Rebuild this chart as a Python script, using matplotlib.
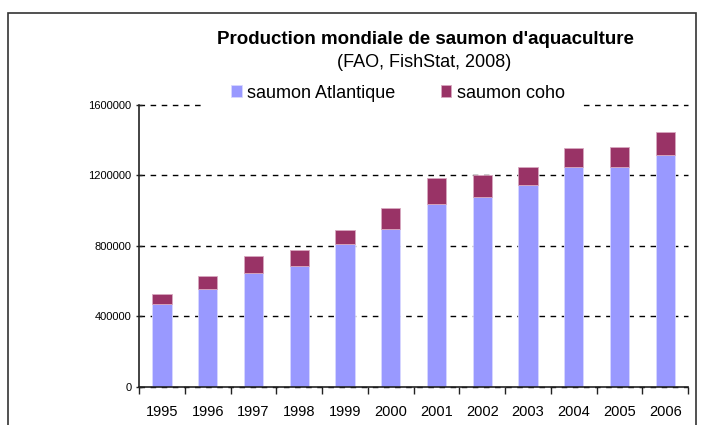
import matplotlib
matplotlib.use("Agg")
import matplotlib.pyplot as plt
from matplotlib.patches import Rectangle
import numpy as np

plt.rcParams["font.family"] = ["Liberation Sans", "DejaVu Sans"]

years = ["1995", "1996", "1997", "1998", "1999", "2000",
         "2001", "2002", "2003", "2004", "2005", "2006"]
atlantique = [469000, 553000, 647000, 685000, 808000, 893000,
              1040000, 1078000, 1144000, 1248000, 1248000, 1313000]
coho = [57000, 75000, 95000, 92000, 83000, 121000,
        142000, 121000, 104000, 105000, 112000, 132000]
yticks = [0, 400000, 800000, 1200000, 1600000]

ATL_COLOR = "#9999ff"
COHO_COLOR = "#993366"

W, H = 703, 425
fig = plt.figure(figsize=(7.03, 4.25), dpi=100)
ax = fig.add_axes([0.198, 0.0894, 0.7807, 0.6642])

x = np.arange(len(years))
ax.bar(x, atlantique, width=0.42, color=ATL_COLOR, edgecolor="#d8d8ff",
       linewidth=0.6, label="saumon Atlantique", zorder=2)
ax.bar(x, coho, width=0.42, bottom=atlantique, color=COHO_COLOR,
       edgecolor="#d8a8c0", linewidth=0.6, label="saumon coho", zorder=2)

ax.set_xlim(-0.5, len(years) - 0.5)
ax.set_ylim(0, 1600000)
ax.set_yticks(yticks)
ax.set_yticklabels([str(v) for v in yticks], fontsize=8)
ax.set_xticks(x)
ax.set_xticklabels(years, fontsize=10.5)
ax.set_xticks(np.arange(len(years) + 1) - 0.5, minor=True)
ax.tick_params(axis="x", which="major", length=0, pad=13)
ax.tick_params(axis="x", which="minor", length=5, width=1, direction="out", color="#222222")
ax.tick_params(axis="y", length=5, width=1, direction="inout", color="#222222", pad=3)

for s in ["top", "right"]:
    ax.spines[s].set_visible(False)
for s in ["left", "bottom"]:
    ax.spines[s].set_color("#222222")
    ax.spines[s].set_linewidth(1.2)

ax.yaxis.grid(True, linestyle=(0, (4, 4)), color="black", linewidth=1)
ax.set_axisbelow(True)
for gl in ax.yaxis.get_gridlines():
    gl.set_clip_on(False)

# white area behind the legend, it cuts the top grid line
fig.patches.append(Rectangle((203 / W, 1 - 112 / H), (582 - 203) / W, 16 / H,
                             transform=fig.transFigure, facecolor="white",
                             edgecolor="none", zorder=1))

fig.text(0.605, 0.906, "Production mondiale de saumon d'aquaculture",
         ha="center", va="center", fontsize=13.5, fontweight="bold")
fig.text(0.604, 0.852, "(FAO, FishStat, 2008)", ha="center", va="center", fontsize=13)

leg = fig.legend(loc="center", bbox_to_anchor=(0.566, 0.781), ncol=2, fontsize=13,
                 frameon=False, handlelength=0.6, handleheight=0.6,
                 handletextpad=0.3, columnspacing=2.5, borderpad=0.3)

fig.patches.append(Rectangle((8 / W, -0.1), (696 - 8) / W, 1.1 - 13 / H,
                             transform=fig.transFigure, fill=False,
                             edgecolor="#333333", linewidth=1.2))

fig.savefig("out.png", dpi=100)
